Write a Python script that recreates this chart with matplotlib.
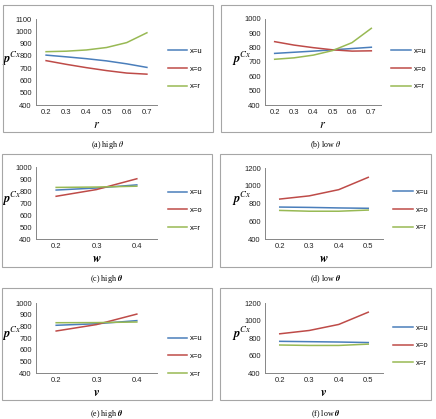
import matplotlib.pyplot as plt
from matplotlib.patches import Rectangle

plt.rcParams['mathtext.fontset'] = 'stix'

W, H = 436, 419

# data
r_vals = ['0.2', '0.3', '0.4', '0.5', '0.6', '0.7']
w_high = ['0.2', '0.3', '0.4']
w_low = ['0.2', '0.3', '0.4', '0.5']

a_u = [806, 792, 777, 759, 735, 706]
a_o = [761, 731, 704, 680, 660, 651]
a_r = [834, 838, 848, 868, 908, 988]

b_u = [760, 768, 776, 785, 794, 803]
b_o = [842, 818, 800, 785, 776, 778]
b_r = [719, 729, 748, 780, 835, 935]

c_u = [808, 825, 851]
c_o = [756, 812, 902]
c_r = [830, 833, 840]

d_u = [760, 756, 750, 746]
d_o = [850, 886, 956, 1095]
d_r = [722, 713, 713, 726]

e_u = [809, 822, 849]
e_o = [760, 815, 905]
e_r = [831, 832, 837]

f_u = [762, 758, 754, 748]
f_o = [848, 886, 955, 1095]
f_r = [720, 715, 715, 730]

blue = '#4A7EBB'
red = '#BE4B48'
green = '#98B954'

fig = plt.figure(figsize=(W / 100, H / 100), dpi=100)


def px(x0, y0, x1, y1):
    return [x0 / W, 1 - y1 / H, (x1 - x0) / W, (y1 - y0) / H]


def panel(box, area, cats, u, o, r, ylim, ystep, xlab, cap, leg_y):
    # outer frame of the excel chart
    bx = px(*box)
    fig.add_artist(Rectangle((bx[0], bx[1]), bx[2], bx[3], transform=fig.transFigure,
                             fill=False, edgecolor='#A6A6A6', lw=0.8))
    ax = fig.add_axes(px(*area))
    x = range(len(cats))
    ax.plot(x, u, color=blue, lw=1.1, label='x=u')
    ax.plot(x, o, color=red, lw=1.1, label='x=o')
    ax.plot(x, r, color=green, lw=1.1, label='x=r')
    ax.set_xlim(-0.5, len(cats) - 0.5)
    ax.set_ylim(*ylim)
    ax.set_xticks(list(x))
    ax.set_xticklabels(cats)
    ax.set_yticks(range(ylim[0], ylim[1] + 1, ystep))
    ax.tick_params(length=0, labelsize=5.5, pad=3, colors='#222222')
    for t in ax.get_xticklabels() + ax.get_yticklabels():
        t.set_family('Liberation Sans')
    for s in ['top', 'right']:
        ax.spines[s].set_visible(False)
    for s in ['left', 'bottom']:
        ax.spines[s].set_color('#868686')
        ax.spines[s].set_linewidth(0.7)
    ax.set_xlabel(xlab, fontsize=9, labelpad=1)
    ax.set_ylabel(r'$\boldsymbol{p}^{Cx}$', fontsize=9, rotation=0, labelpad=1)
    ax.yaxis.set_label_coords(-0.2, 0.43)
    ax.legend(loc='center left', bbox_to_anchor=(1.03, leg_y), frameon=False,
              prop={'family': 'Liberation Sans', 'size': 5.5},
              handlelength=2.6, handletextpad=0.3, labelspacing=1.35)
    cx = (box[0] + box[2]) / 2
    fig.text(cx / W, 1 - cap[1] / H, cap[0], ha='center', va='center',
             family='Liberation Serif', fontsize=5.8)
    return ax


panel((3, 5, 213, 132), (36, 19, 157, 105), r_vals, a_u, a_o, a_r, (400, 1100), 100,
      r'$r$', (r'(a) high $\theta$', 145), 0.42)
panel((221, 5, 431, 132), (265, 19, 381, 105), r_vals, b_u, b_o, b_r, (400, 1000), 100,
      r'$r$', (r'(b) low $\theta$', 145), 0.42)
panel((2, 154, 212, 267), (36, 167, 157, 239), w_high, c_u, c_o, c_r, (400, 1000), 100,
      r'$\boldsymbol{w}$', (r'(c) high $\boldsymbol{\theta}$', 279), 0.4)
panel((220, 154, 431, 267), (265, 168, 383, 239), w_low, d_u, d_o, d_r, (400, 1200), 200,
      r'$\boldsymbol{w}$', (r'(d) low $\boldsymbol{\theta}$', 279), 0.41)
panel((2, 288, 212, 400), (36, 303, 157, 373), w_high, e_u, e_o, e_r, (400, 1000), 100,
      r'$\boldsymbol{v}$', (r'(e) high $\boldsymbol{\theta}$', 414), 0.24)
panel((220, 288, 431, 400), (265, 303, 383, 373), w_low, f_u, f_o, f_r, (400, 1200), 200,
      r'$\boldsymbol{v}$', (r'(f) low $\boldsymbol{\theta}$', 414), 0.39)

fig.savefig('out.png', dpi=100)
